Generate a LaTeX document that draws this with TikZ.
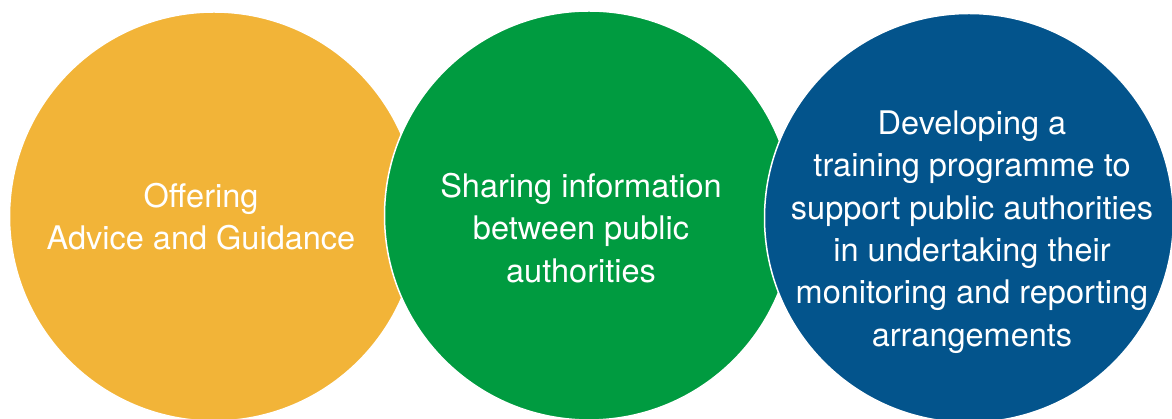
\documentclass[tikz,border=0pt]{standalone}
\usepackage{fontspec}
\setmainfont{TeX Gyre Heros}
\definecolor{cyellow}{RGB}{242,180,56}
\definecolor{cgreen}{RGB}{0,155,64}
\definecolor{cblue}{RGB}{3,84,140}
\tikzset{
  disc/.style={circle, minimum size=409pt, inner sep=0pt, draw=white, line width=1.5pt},
  lbl/.style={text=white, align=center, font=\fontsize{32.5pt}{42.3pt}\selectfont, inner sep=0pt}
}
\begin{document}
\begin{tikzpicture}[x=1pt,y=1pt]
\useasboundingbox (0,0) rectangle (1172,419);
\clip (0,0) rectangle (1172,419);
\node[disc, fill=cyellow] (c1) at (214,202.5) {};
\node[disc, fill=cgreen] (c2) at (589,203.5) {};
\node[disc, fill=cblue] (c3) at (969,201) {};
\node[lbl] (t1) at (201,202) {Offering\\Advice and Guidance};
\node[lbl] (t2) at (581,191) {Sharing information\\between public\\authorities};
\node[lbl] (t3) at (972,187) {Developing a\\training programme to\\support public authorities\\in undertaking their\\monitoring and reporting\\arrangements};
\end{tikzpicture}
\end{document}
